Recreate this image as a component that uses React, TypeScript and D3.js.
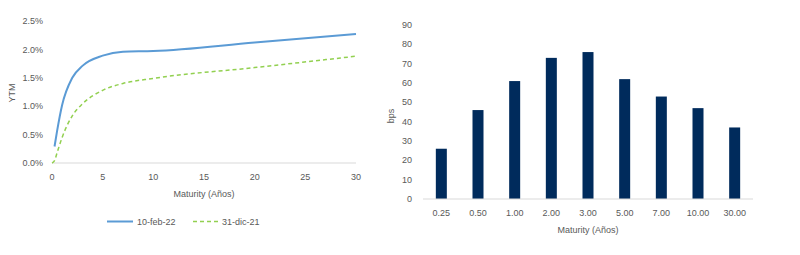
import React from "react";
import * as d3 from "d3";

const maturities = [0.25, 0.5, 1, 2, 3, 5, 7, 10, 20, 30];
const ytmFeb22 = [0.29, 0.56, 1.02, 1.5, 1.71, 1.89, 1.96, 1.97, 2.12, 2.27];
const ytmDic21 = [0.04, 0.18, 0.45, 0.83, 1.04, 1.28, 1.4, 1.49, 1.68, 1.88];
const leftYTicks = [0, 0.5, 1, 1.5, 2, 2.5];
const leftXTicks = [0, 5, 10, 15, 20, 25, 30];

const barCategories = ["0.25", "0.50", "1.00", "2.00", "3.00", "5.00", "7.00", "10.00", "30.00"];
const barValues = [26, 46, 61, 73, 76, 62, 53, 47, 37];
const rightYTicks = [0, 10, 20, 30, 40, 50, 60, 70, 80, 90];

const FONT = "'Liberation Sans', Arial, sans-serif";
const TXT = "#595959";

export default function App() {
  const x = d3.scaleLinear().domain([0, 30]).range([52, 356]);
  const y = d3.scaleLinear().domain([0, 2.5]).range([163, 21]);
  const line = d3
    .line<[number, number]>()
    .x((d) => x(d[0]))
    .y((d) => y(d[1]))
    .curve(d3.curveMonotoneX);
  const febPts = maturities.map((m, i) => [m, ytmFeb22[i]] as [number, number]);
  const dicPts = [[0, 0] as [number, number]].concat(
    maturities.map((m, i) => [m, ytmDic21[i]] as [number, number])
  );

  const bx = d3.scaleBand().domain(barCategories).range([423, 753]).paddingInner(0.7).paddingOuter(0.35);
  const by = d3.scaleLinear().domain([0, 90]).range([199, 25]);

  return (
    <svg width={800} height={255} style={{ position: "absolute", left: 0, top: 0 }} fontFamily={FONT}>
      <rect width={800} height={255} fill="#fff" />
      {/* Left chart */}
      <line x1={52} x2={356} y1={y(0)} y2={y(0)} stroke="#d9d9d9" strokeWidth={1.2} />
      {leftYTicks.map((t) => (
        <text key={t} x={43} y={y(t)} dy="0.35em" textAnchor="end" fontSize={9} fill={TXT}>
          {t.toFixed(1)}%
        </text>
      ))}
      {leftXTicks.map((t) => (
        <text key={t} x={x(t)} y={177} dy="0.35em" textAnchor="middle" fontSize={9} fill={TXT}>
          {t}
        </text>
      ))}
      <text x={204} y={194} dy="0.35em" textAnchor="middle" fontSize={9} fill={TXT}>
        Maturity (Años)
      </text>
      <text transform="translate(12,93) rotate(-90)" dy="0.35em" textAnchor="middle" fontSize={9} fill={TXT}>
        YTM
      </text>
      <path d={line(dicPts) || ""} fill="none" stroke="#92D050" strokeWidth={1.5} strokeDasharray="4,3" />
      <path d={line(febPts) || ""} fill="none" stroke="#5B9BD5" strokeWidth={2} />
      {/* Legend */}
      <line x1={107} x2={133} y1={221.5} y2={221.5} stroke="#5B9BD5" strokeWidth={2} />
      <text x={137} y={221.5} dy="0.35em" fontSize={9} fill={TXT}>10-feb-22</text>
      <line x1={193} x2={218} y1={221.5} y2={221.5} stroke="#92D050" strokeWidth={1.5} strokeDasharray="4,3" />
      <text x={222} y={221.5} dy="0.35em" fontSize={9} fill={TXT}>31-dic-21</text>

      {/* Right chart */}
      {barCategories.map((c, i) => (
        <rect key={c} x={bx(c)} y={by(barValues[i])} width={bx.bandwidth()} height={by(0) - by(barValues[i])} fill="#002B5C" />
      ))}
      <line x1={423} x2={753} y1={by(0)} y2={by(0)} stroke="#d9d9d9" strokeWidth={1.2} />
      {rightYTicks.map((t) => (
        <text key={t} x={412} y={by(t)} dy="0.35em" textAnchor="end" fontSize={9} fill={TXT}>
          {t}
        </text>
      ))}
      {barCategories.map((c) => (
        <text key={c} x={(bx(c) || 0) + bx.bandwidth() / 2} y={213} dy="0.35em" textAnchor="middle" fontSize={9} fill={TXT}>
          {c}
        </text>
      ))}
      <text x={588} y={230} dy="0.35em" textAnchor="middle" fontSize={9} fill={TXT}>
        Maturity (Años)
      </text>
      <text transform="translate(391,116) rotate(-90)" dy="0.35em" textAnchor="middle" fontSize={9} fill={TXT}>
        bps
      </text>
    </svg>
  );
}
